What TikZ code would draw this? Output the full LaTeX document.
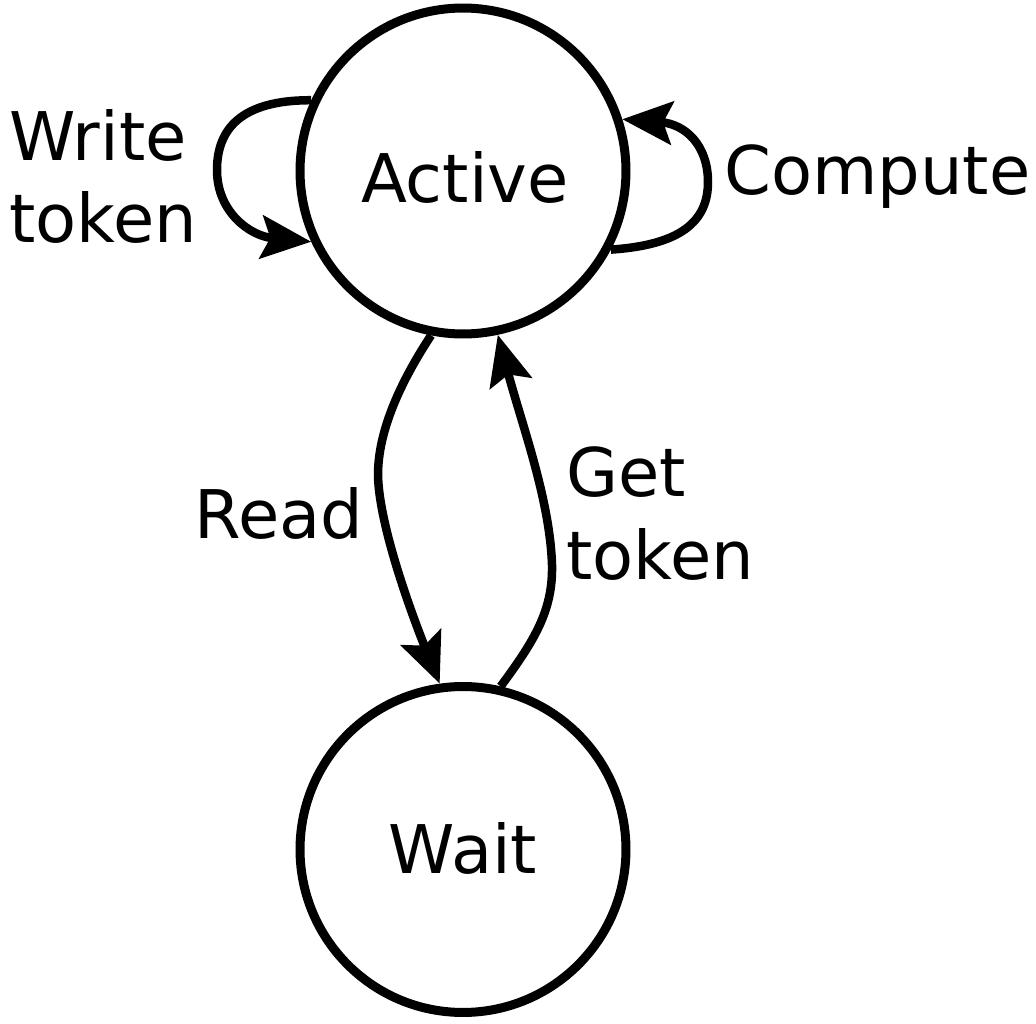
\documentclass[tikz,border=0pt]{standalone}
\usepackage{fontspec}
\setmainfont{DejaVu Sans}
\usetikzlibrary{arrows.meta}
\begin{document}
\begin{tikzpicture}[x=0.02cm,y=-0.02cm,
  state/.style={circle,draw,line width=0.18cm,minimum size=6.52cm,inner sep=0pt},
  lbl/.style={inner sep=0pt,font=\fontsize{38.2}{47}\selectfont,align=left},
  edge/.style={line width=0.17cm,-{Stealth[length=1.0cm,width=0.86cm,inset=0.18cm]}}]
\useasboundingbox (0,0) rectangle (1036,1024);
\node[state] (active) at (463,171) {};
\node[state] (wait) at (463,849.5) {};
\node[lbl,anchor=base] (tactive) at (465,203) {Active};
\node[lbl,anchor=base] (twait) at (463,873) {Wait};
\node[lbl,anchor=base west] (twrite) at (9,243) {Write\\token};
\node[lbl,anchor=base west] (tcompute) at (724,195) {Compute};
\node[lbl,anchor=base west] (tread) at (194,538) {Read};
\node[lbl,anchor=base west] (tget) at (566,579) {Get\\token};
% Write token loop
\draw[edge] (active.155.6) .. controls (240,100) and (217,130) .. (217,170)
  .. controls (217,212) and (250,236) .. (active.205);
% Compute loop
\draw[edge] (active.-28.8) .. controls (680,245) and (708,222) .. (708,182)
  .. controls (708,145) and (685,124) .. (active.18.7);
% Read
\draw[edge] (active.-101) .. controls (392,395) and (378,440) .. (378,475)
  .. controls (379,530) and (418,630) .. (wait.98.9);
% Get token
\draw[edge] (wait.77.3) .. controls (535,640) and (553,610) .. (552,565)
  .. controls (550,500) and (522,425) .. (active.-78.6);
\end{tikzpicture}
\end{document}
